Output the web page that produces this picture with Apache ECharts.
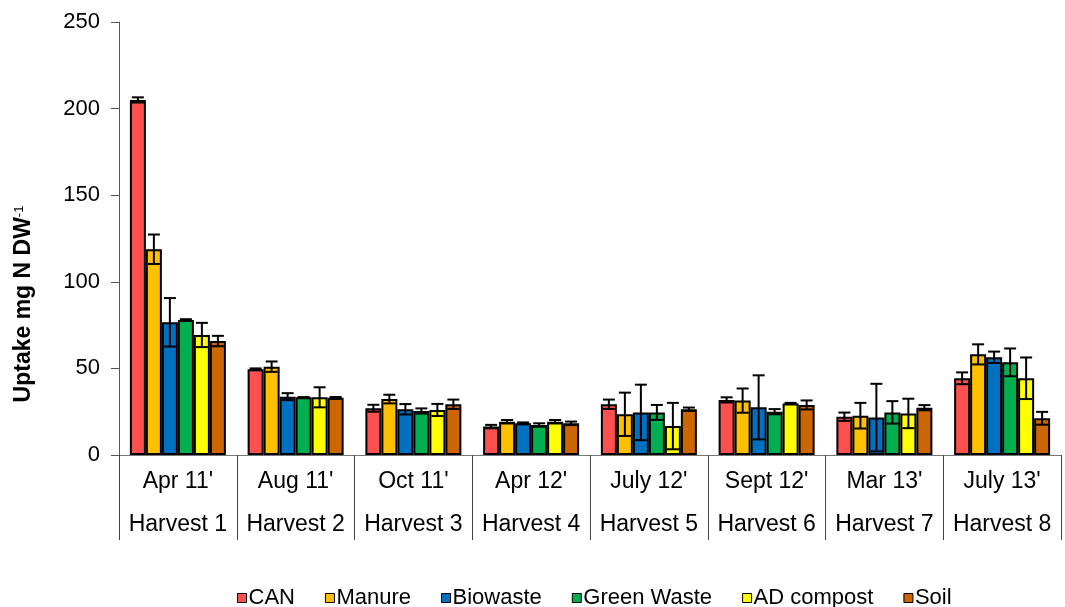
<!DOCTYPE html>
<html>
<head>
<meta charset="utf-8">
<script src="https://cdn.jsdelivr.net/npm/echarts@6/dist/echarts.min.js"></script>
<style>html,body{margin:0;padding:0;background:#fff}#c{width:1065px;height:607px}</style>
</head>
<body>
<div id="c"></div>
<script>
const dates = ["Apr 11'", "Aug 11'", "Oct 11'", "Apr 12'", "July 12'", "Sept 12'", "Mar 13'", "July 13'"];
const harvests = ["Harvest 1", "Harvest 2", "Harvest 3", "Harvest 4", "Harvest 5", "Harvest 6", "Harvest 7", "Harvest 8"];
const seriesNames = ["CAN", "Manure", "Biowaste", "Green Waste", "AD compost", "Soil"];

const CAN       = [205, 49.5, 27, 16.4, 29.3, 31.8, 22.1, 44.3];
const CAN_err   = [1.5, 0.5, 2, 1, 2.7, 1.5, 2.4, 3.4];
const Manure    = [118.8, 51, 32.3, 19.2, 23.5, 31.4, 22.7, 58.1];
const Manure_err= [8.5, 3, 2.5, 1, 12.5, 7, 7.4, 5.8];
const Biowaste  = [76.6, 33.7, 26.4, 18.3, 24.6, 27.5, 21.6, 56.4];
const Biowaste_err = [14, 2, 3, 0.5, 16, 18.5, 19.5, 3.3];
const Green     = [77.9, 33.3, 25.4, 17.3, 24.6, 25, 24.6, 53.5];
const Green_err = [0.5, 0, 1.5, 1, 4.3, 1.5, 6.5, 8];
const AD        = [69.3, 33.3, 26, 19.2, 16.7, 29.8, 24, 44.3];
const AD_err    = [7, 5.8, 3.5, 1, 13.4, 0.3, 8.5, 12];
const Soil      = [65.8, 33, 29.3, 18.3, 26.4, 28.9, 27.3, 21.2];
const Soil_err  = [3, 0.5, 2.7, 1, 1, 2.6, 1.5, 3.7];

const yTicks = [0, 50, 100, 150, 200, 250];

const values = [CAN, Manure, Biowaste, Green, AD, Soil];
const errors = [CAN_err, Manure_err, Biowaste_err, Green_err, AD_err, Soil_err];
const colors = ['#FF5050', '#FFC000', '#0070C0', '#00B050', '#FFFF00', '#CC6600'];

const BAR_W = 16;
const FONT = '"Liberation Sans", Arial, sans-serif';

const errData = [];
values.forEach((arr, s) => arr.forEach((v, c) => errData.push([c, v, errors[s][c], s])));

const chart = echarts.init(document.getElementById('c'), null, {renderer: 'canvas'});

const barSeries = seriesNames.map((n, i) => ({
  name: n,
  type: 'bar',
  data: values[i],
  barWidth: BAR_W,
  barGap: '0%',
  itemStyle: {color: colors[i], borderColor: '#000', borderWidth: 2},
  z: 2
}));

const errSeries = {
  type: 'custom',
  data: errData,
  z: 5,
  silent: true,
  renderItem: function (params, api) {
    const c = api.value(0), v = api.value(1), e = api.value(2), s = api.value(3);
    const off = (s - 2.5) * BAR_W;
    const hi = api.coord([c, v + e]);
    const lo = api.coord([c, v - e]);
    const x = hi[0] + off;
    const cap = 6;
    const st = {stroke: '#000', lineWidth: 2};
    return {
      type: 'group',
      children: [
        {type: 'line', shape: {x1: x, y1: hi[1], x2: x, y2: lo[1]}, style: st},
        {type: 'line', shape: {x1: x - cap, y1: hi[1], x2: x + cap, y2: hi[1]}, style: st},
        {type: 'line', shape: {x1: x - cap, y1: lo[1], x2: x + cap, y2: lo[1]}, style: st}
      ]
    };
  }
};

chart.setOption({
  animation: false,
  backgroundColor: '#fff',
  textStyle: {fontFamily: FONT},
  grid: {left: 119, right: 4, top: 22, bottom: 152, containLabel: false},
  legend: {
    data: seriesNames,
    left: 237,
    top: 587,
    padding: 0,
    itemWidth: 9,
    itemHeight: 9,
    itemGap: 30,
    icon: 'rect',
    itemStyle: {borderColor: '#000', borderWidth: 1},
    textStyle: {fontFamily: FONT, fontSize: 22, color: '#000', padding: [0, 0, 0, -3]}
  },
  xAxis: {
    type: 'category',
    data: dates,
    axisLine: {lineStyle: {color: '#777', width: 1}},
    axisTick: {show: true, length: 85, interval: 0, alignWithLabel: false, lineStyle: {color: '#444', width: 1}},
    axisLabel: {
      interval: 0,
      margin: 5,
      color: '#000',
      fontFamily: FONT,
      fontSize: 23,
      lineHeight: 43,
      formatter: function (val, idx) { return val + '\n' + harvests[idx]; }
    },
    splitLine: {show: false}
  },
  yAxis: {
    type: 'value',
    min: yTicks[0],
    max: yTicks[yTicks.length - 1],
    interval: 50,
    axisLine: {show: true, lineStyle: {color: '#555', width: 1}},
    axisTick: {show: true, length: 8, lineStyle: {color: '#555'}},
    axisLabel: {color: '#000', fontFamily: FONT, fontSize: 22, margin: 19},
    splitLine: {show: false}
  },
  graphic: [{
    type: 'text',
    x: 24,
    y: 304,
    rotation: Math.PI / 2,
    style: {
      text: '{a|Uptake mg N DW}{b|-1}',
      align: 'center',
      verticalAlign: 'middle',
      rich: {
        a: {fontFamily: FONT, fontSize: 23, fontWeight: 'bold', fill: '#000', color: '#000'},
        b: {fontFamily: FONT, fontSize: 13, fontWeight: 'normal', fill: '#000', color: '#000', verticalAlign: 'top', padding: [0, 0, 10, 0]}
      }
    }
  }],
  series: barSeries.concat([errSeries])
});
</script>
</body>
</html>
